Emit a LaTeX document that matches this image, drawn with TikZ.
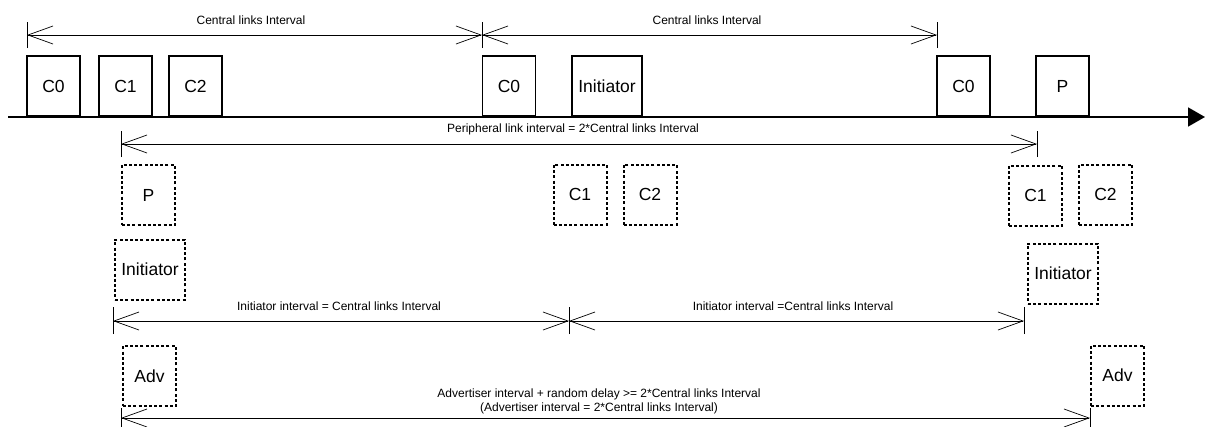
\documentclass[tikz,border=0pt]{standalone}
\usepackage{fontspec}
\setmainfont{Liberation Sans}
\usetikzlibrary{positioning, arrows.meta}

\begin{document}
\begin{tikzpicture}[
    x=1pt, y=-1pt,
    slot/.style={draw, line width=1.8pt, inner sep=0pt, minimum width=53pt, minimum height=60pt, font=\fontsize{17.5}{20}\selectfont},
    wideslot/.style={slot, minimum width=70pt},
    dashslot/.style={slot, line width=2pt, dash pattern=on 3pt off 2.2pt},
    widedash/.style={dashslot, minimum width=70pt},
    dim/.style={{Straight Barb[length=25pt, width=18pt]}-{Straight Barb[length=25pt, width=18pt]}, line width=0.7pt},
    tick/.style={line width=0.7pt},
    label/.style={font=\fontsize{12}{14}\selectfont, align=center, inner sep=0pt}
]
    \useasboundingbox (0,0) rectangle (1205,426);

    % Timeline
    \coordinate (t0) at (8,117);
    \coordinate (t1) at (1205,117);
    \draw[line width=1.8pt, -{Triangle[length=17pt, width=19pt]}] (t0) -- (t1);

    % Central slots on the timeline
    \node[slot] (c0a) at (53.5,86) {C0};
    \node[slot] (c1a) at (125.5,86) {C1};
    \node[slot] (c2a) at (195.5,86) {C2};
    \node[slot] (c0b) at (509,86) {C0};
    \node[wideslot] (inita) at (607,86) {Initiator};
    \node[slot] (c0c) at (963.5,86) {C0};
    \node[slot] (pa) at (1062.5,86) {P};

    % Scheduled slots below the timeline
    \node[dashslot] (pb) at (148.5,195) {P};
    \node[widedash] (initb) at (150,269.5) {Initiator};
    \node[dashslot] (c1b) at (580,194.5) {C1};
    \node[dashslot] (c2b) at (650,194.5) {C2};
    \node[dashslot] (c1c) at (1035.5,195.5) {C1};
    \node[dashslot] (c2c) at (1105.5,194.5) {C2};
    \node[widedash] (initc) at (1063,273.5) {Initiator};
    \node[dashslot] (adva) at (149.5,376) {Adv};
    \node[dashslot] (advb) at (1117.5,375.5) {Adv};

    % Central links interval
    \coordinate (ca) at (27,35);
    \coordinate (cb) at (482,35);
    \coordinate (cc) at (937,35);
    \foreach \p in {ca,cb,cc} \draw[tick] ([yshift=-13pt]\p) -- ([yshift=13pt]\p);
    \draw[dim] (ca) -- (cb);
    \draw[dim] (cb) -- (cc);
    \node[label] (lca) at (251,20) {Central links Interval};
    \node[label] (lcb) at (707,20) {Central links Interval};

    % Peripheral link interval
    \coordinate (pl) at (121,144);
    \coordinate (pr) at (1037,144);
    \foreach \p in {pl,pr} \draw[tick] ([yshift=-13pt]\p) -- ([yshift=13pt]\p);
    \draw[dim] (pl) -- (pr);
    \node[label] (lp) at (573,129) {Peripheral link interval = 2*Central links Interval};

    % Initiator interval
    \coordinate (ia) at (113,321);
    \coordinate (ib) at (569,321);
    \coordinate (ic) at (1024,321);
    \foreach \p in {ia,ib,ic} \draw[tick] ([yshift=-13pt]\p) -- ([yshift=14pt]\p);
    \draw[dim] (ia) -- (ib);
    \draw[dim] (ib) -- (ic);
    \node[label] (lia) at (339,306) {Initiator interval = Central links Interval};
    \node[label] (lib) at (793,306) {Initiator interval =Central links Interval};

    % Advertiser interval
    \coordinate (al) at (121,418);
    \coordinate (ar) at (1090,418);
    \foreach \p in {al,ar} \draw[tick] ([yshift=-13pt]\p) -- ([yshift=10pt]\p);
    \draw[dim] (al) -- (ar);
    \node[label] (la) at (599,401) {Advertiser interval + random delay >= 2*Central links Interval\\(Advertiser interval = 2*Central links Interval)};

\end{tikzpicture}
\end{document}
